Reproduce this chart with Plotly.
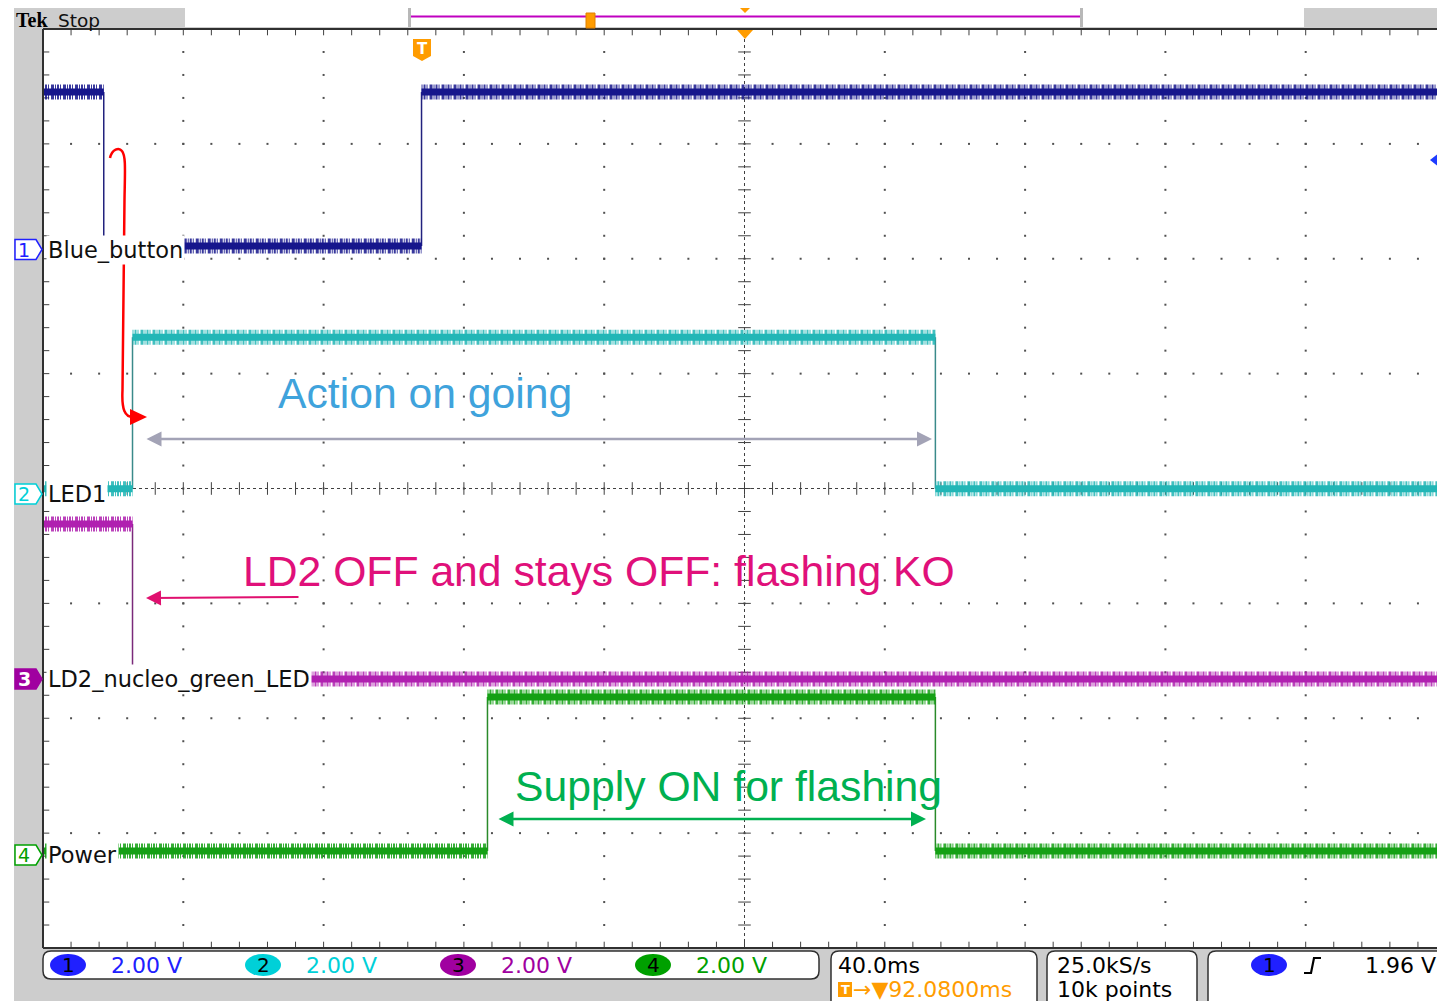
import plotly.graph_objects as go

# ---------------- data ----------------
# time axis: ms relative to trigger (ch1 rising edge), 40 ms/div, 10 div
MS_PER_DIV = 40.0
X_LEFT_MS = -107.92          # left edge of the graticule
TRIG_POS_MS = 92.08          # centre of screen relative to trigger
# vertical: 2.00 V/div for every channel, 8 div, offsets in divisions
V_PER_DIV = 2.0

CH_NAMES = ["Blue_button", "LED1", "LD2_nucleo_green_LED", "Power"]
CH_OFFSET_DIV = [2.076, -0.048, -1.658, -3.19]
CH1_EDGES_MS = [-90.6, 0.0]
CH1_LEVELS_V = [2.75, 0.07, 2.75]
CH2_EDGES_MS = [-82.4, 146.5]
CH2_LEVELS_V = [0.09, 2.73, 0.09]
CH3_EDGES_MS = [-82.4]
CH3_LEVELS_V = [2.70, 0.00]
CH4_EDGES_MS = [18.8, 146.5]
CH4_LEVELS_V = [0.07, 2.75, 0.07]

CH_COLORS = ["#16168c", "#22b6b6", "#b020b0", "#14a014"]
CH_EDGE_COLORS = ["#22227e", "#3a8a8a", "#7a2a7a", "#2a8a2a"]
CH_TAG_COLORS = ["#2020ff", "#00d0d8", "#a000a0", "#00a000"]

SCALE_TEXT = ["2.00 V", "2.00 V", "2.00 V", "2.00 V"]
TIMEBASE_TEXT = "40.0ms"
TRIG_POS_TEXT = "→▼92.0800ms"
SAMPLE_RATE_TEXT = "25.0kS/s"
RECORD_TEXT = "10k points"
TRIG_LEVEL_TEXT = "1.96 V"

# ---------------- geometry helpers ----------------
# the page body adds an 8 px margin; positions are given in window pixels
W, H = 1445, 1001
OFF = 8
def px(x): return (x - OFF) / W
def py(y): return 1 - (y - OFF) / H
def pt(x, y): return f"{px(x):.5f},{py(y):.5f}"
def ppath(pts, close=True):
    s = "M " + " L ".join(pt(x, y) for x, y in pts)
    return s + (" Z" if close else "")
def rrect_path(x0, x1, y0, y1, r):
    return (f"M {pt(x0 + r, y0)} L {pt(x1 - r, y0)} Q {pt(x1, y0)} {pt(x1, y0 + r)} "
            f"L {pt(x1, y1 - r)} Q {pt(x1, y1)} {pt(x1 - r, y1)} L {pt(x0 + r, y1)} "
            f"Q {pt(x0, y1)} {pt(x0, y1 - r)} L {pt(x0, y0 + r)} Q {pt(x0, y0)} {pt(x0 + r, y0)} Z")

RIGHT_PX = W + OFF
X_MIN = X_LEFT_MS
X_MAX = X_LEFT_MS + 10 * MS_PER_DIV * (RIGHT_PX - 43) / (1446 - 43)

fig = go.Figure()
shapes = []
ann = []
GRAY = "#cdcdcd"

# ---------------- graticule ----------------
gx, gy = [], []
for k in range(1, 10):
    if k == 5:
        continue
    for n in range(41):
        gx.append(X_LEFT_MS + k * MS_PER_DIV); gy.append(-4 + 0.2 * n)
for j in range(1, 8):
    if j == 4:
        continue
    for m in range(51):
        gx.append(X_LEFT_MS + m * MS_PER_DIV / 5); gy.append(-4 + j)
fig.add_trace(go.Scatter(x=gx, y=gy, mode="markers", hoverinfo="skip",
                         marker=dict(symbol="square", size=2, color="#505050")))
tx = [X_LEFT_MS + m * MS_PER_DIV / 5 for m in range(51)]
ty = [-4 + 0.2 * n for n in range(41)]
fig.add_trace(go.Scatter(x=tx * 3, y=[0] * 51 + [4] * 51 + [-4] * 51, mode="markers", hoverinfo="skip",
                         marker=dict(symbol="line-ns", size=9, line=dict(width=1, color="#404040"))))
fig.add_trace(go.Scatter(x=[TRIG_POS_MS] * 41 + [X_LEFT_MS] * 41, y=ty * 2, mode="markers", hoverinfo="skip",
                         marker=dict(symbol="line-ew", size=9, line=dict(width=1, color="#404040"))))
shapes.append(dict(type="line", x0=TRIG_POS_MS, x1=TRIG_POS_MS, y0=-4, y1=4, xref="x", yref="y",
                   line=dict(color="#404040", width=1, dash="dot"), layer="below"))
shapes.append(dict(type="line", x0=X_MIN, x1=X_MAX, y0=0, y1=0, xref="x", yref="y",
                   line=dict(color="#404040", width=1, dash="dot"), layer="below"))

# ---------------- channel traces ----------------
HATCH = "1px,1px,2px,1px,1px,2px,3px,1px"   # stroke texture for the noisy acquisition band

def add_channel(edges, levels, offset, color, edge_color):
    bounds = [X_MIN] + edges + [X_MAX]
    sx, sy = [], []
    for i, lv in enumerate(levels):
        yv = offset + lv / V_PER_DIV
        sx += [bounds[i], bounds[i + 1], None]
        sy += [yv, yv, None]
    ex, ey = [], []
    for i, e in enumerate(edges):
        ex += [e, e, None]
        ey += [offset + levels[i] / V_PER_DIV, offset + levels[i + 1] / V_PER_DIV, None]
    fig.add_trace(go.Scatter(x=ex, y=ey, mode="lines", hoverinfo="skip",
                             line=dict(color=edge_color, width=1.5)))
    fig.add_trace(go.Scatter(x=sx, y=sy, mode="lines", hoverinfo="skip", opacity=0.85,
                             line=dict(color=color, width=15, dash=HATCH)))
    fig.add_trace(go.Scatter(x=sx, y=sy, mode="lines", hoverinfo="skip",
                             line=dict(color=color, width=7)))

add_channel(CH1_EDGES_MS, CH1_LEVELS_V, CH_OFFSET_DIV[0], CH_COLORS[0], CH_EDGE_COLORS[0])
add_channel(CH2_EDGES_MS, CH2_LEVELS_V, CH_OFFSET_DIV[1], CH_COLORS[1], CH_EDGE_COLORS[1])
add_channel(CH3_EDGES_MS, CH3_LEVELS_V, CH_OFFSET_DIV[2], CH_COLORS[2], CH_EDGE_COLORS[2])
add_channel(CH4_EDGES_MS, CH4_LEVELS_V, CH_OFFSET_DIV[3], CH_COLORS[3], CH_EDGE_COLORS[3])

def prect(x0, x1, y0, y1, fill, line=None):
    shapes.append(dict(type="rect", xref="paper", yref="paper", x0=px(x0), x1=px(x1), y0=py(y1), y1=py(y0),
                       fillcolor=fill, line=line or dict(width=0), layer="above"))

# frame backgrounds
prect(14, 43, 5, 1010, GRAY)
prect(14, RIGHT_PX, 5, 29, GRAY)
prect(14, RIGHT_PX, 948, 1010, GRAY)
# plot border
for (x0, y0, x1, y1) in [(43, 29, RIGHT_PX, 29), (43, 948, RIGHT_PX, 948), (43, 29, 43, 948)]:
    shapes.append(dict(type="line", xref="paper", yref="paper", x0=px(x0), x1=px(x1), y0=py(y0), y1=py(y1),
                       line=dict(color="#303030", width=2), layer="above"))

# top bar
prect(185, 1304, 7, 27, "white")
prect(408, 411, 7, 27, "#b8b8b8")
prect(1080, 1083, 7, 27, "#b8b8b8")
shapes.append(dict(type="line", xref="paper", yref="paper", x0=px(411), x1=px(1080), y0=py(16.5), y1=py(16.5),
                   line=dict(color="#c000c0", width=2), layer="above"))
prect(586, 595, 13, 28, "#ff9c00", dict(color="#e08000", width=1))
shapes.append(dict(type="path", xref="paper", yref="paper", path=ppath([(739, 7), (751, 7), (745, 13)]),
                   fillcolor="#ff9c00", line=dict(width=0), layer="above"))
shapes.append(dict(type="path", xref="paper", yref="paper", path=ppath([(737, 30), (753, 30), (745, 39)]),
                   fillcolor="#ff9c00", line=dict(width=0), layer="above"))
ann.append(dict(text="<b>Tek</b>", x=px(14), y=py(20.5), xanchor="left", yanchor="middle",
                font=dict(family="Liberation Serif", size=20, color="black")))
ann.append(dict(text="Stop", x=px(56), y=py(20), xanchor="left", yanchor="middle",
                font=dict(family="DejaVu Sans", size=18.5, color="#101010")))

# trigger marker in plot
shapes.append(dict(type="path", xref="paper", yref="paper",
                   path=ppath([(413, 39), (431, 39), (431, 56), (422, 61), (413, 56)]),
                   fillcolor="#ff9c00", line=dict(width=0), layer="above"))
ann.append(dict(text="<b>T</b>", x=px(422), y=py(49), xanchor="center", yanchor="middle",
                font=dict(family="DejaVu Sans", size=15, color="white")))
# ch1 trigger level arrow on right edge
shapes.append(dict(type="path", xref="paper", yref="paper",
                   path=ppath([(1430, 160), (1440, 152), (1440, 157), (1450, 157), (1450, 163), (1440, 163), (1440, 168)]),
                   fillcolor="#1e3cff", line=dict(width=0), layer="above"))

# red curved arrow
red_path = (f"M {pt(110, 158)} C {pt(112, 149)} {pt(119, 147)} {pt(122, 151)} "
            f"C {pt(126, 156)} {pt(125, 170)} {pt(124.5, 200)} L {pt(122.5, 390)} "
            f"C {pt(121.5, 410)} {pt(125, 417)} {pt(133, 417)}")
shapes.append(dict(type="path", xref="paper", yref="paper", path=red_path,
                   line=dict(color="#ff0000", width=2.5), layer="above"))
shapes.append(dict(type="path", xref="paper", yref="paper", path=ppath([(130, 409), (147, 417), (130, 425)]),
                   fillcolor="#ff0000", line=dict(width=0), layer="above"))

# channel tags on the left + channel labels
tag_y = [249.5, 494, 679, 855]
for i in range(4):
    c = tag_y[i]
    filled = (i == 2)
    shapes.append(dict(type="path", xref="paper", yref="paper",
                       path=ppath([(15, c - 10), (36, c - 10), (42, c), (36, c + 10), (15, c + 10)]),
                       fillcolor=CH_TAG_COLORS[i] if filled else "white",
                       line=dict(color=CH_TAG_COLORS[i], width=1.5), layer="above"))
    ann.append(dict(text=f"<b>{i+1}</b>" if filled else str(i + 1), x=px(24), y=py(c), xanchor="center", yanchor="middle",
                    font=dict(family="DejaVu Sans", size=19, color="white" if filled else CH_TAG_COLORS[i])))
    ann.append(dict(text=CH_NAMES[i], x=px(46), y=py(c), xanchor="left", yanchor="middle",
                    bgcolor="white", borderpad=1,
                    font=dict(family="DejaVu Sans", size=22.5, color="#101010")))

# callout texts
ann.append(dict(text="Action on going", x=px(276), y=py(393), xanchor="left", yanchor="middle",
                font=dict(family="Liberation Sans", size=42.7, color="#3fa3dc")))
ann.append(dict(text="LD2 OFF and stays OFF: flashing KO", x=px(241), y=py(571), xanchor="left", yanchor="middle",
                font=dict(family="Liberation Sans", size=42.7, color="#e0107a")))
ann.append(dict(text="Supply ON for flashing", x=px(513), y=py(786), xanchor="left", yanchor="middle",
                font=dict(family="Liberation Sans", size=42.7, color="#00b050")))
# arrows
ann.append(dict(text="", x=px(932), y=py(439), ax=-(932 - 145), ay=0, showarrow=True, arrowside="end+start",
                arrowhead=2, arrowsize=1.2, arrowwidth=2.5, arrowcolor="#a3a3b6"))
ann.append(dict(text="", x=px(146), y=py(598), ax=(300 - 146), ay=-1, showarrow=True,
                arrowhead=2, arrowsize=1.5, arrowwidth=2, arrowcolor="#e0106f"))
ann.append(dict(text="", x=px(926), y=py(819), ax=-(926 - 497), ay=0, showarrow=True, arrowside="end+start",
                arrowhead=2, arrowsize=1.2, arrowwidth=2.5, arrowcolor="#00b050"))

# ---------------- status bar ----------------
def rbox(x0, x1, y0, y1, r=8):
    shapes.append(dict(type="path", xref="paper", yref="paper", path=rrect_path(x0, x1, y0, y1, r),
                       fillcolor="white", line=dict(color="#303030", width=1.5), layer="above"))
rbox(43, 819, 951, 979)
rbox(831, 1037, 951, 1015)
rbox(1047, 1197, 951, 1015)
rbox(1208, 1470, 951, 1015)

tag_x = [50, 245, 440, 635]
for i in range(4):
    x0 = tag_x[i]
    shapes.append(dict(type="circle", xref="paper", yref="paper", x0=px(x0), x1=px(x0 + 36), y0=py(976), y1=py(954),
                       fillcolor=CH_TAG_COLORS[i], line=dict(width=0), layer="above"))
    ann.append(dict(text=str(i + 1), x=px(x0 + 18), y=py(965), xanchor="center", yanchor="middle",
                    font=dict(family="DejaVu Sans", size=20, color="black")))
    ann.append(dict(text=SCALE_TEXT[i], x=px(x0 + 59), y=py(965), xanchor="left", yanchor="middle",
                    font=dict(family="DejaVu Sans", size=22, color=CH_TAG_COLORS[i])))

ann.append(dict(text=TIMEBASE_TEXT, x=px(836), y=py(965), xanchor="left", yanchor="middle",
                font=dict(family="DejaVu Sans", size=22, color="black")))
prect(838, 852, 982, 997, "#ff9c00")
ann.append(dict(text="<b>T</b>", x=px(845), y=py(989.5), xanchor="center", yanchor="middle",
                font=dict(family="DejaVu Sans", size=13, color="white")))
ann.append(dict(text=TRIG_POS_TEXT, x=px(851), y=py(989), xanchor="left", yanchor="middle",
                font=dict(family="DejaVu Sans", size=22, color="#ff9c00")))
ann.append(dict(text=SAMPLE_RATE_TEXT, x=px(1055), y=py(965), xanchor="left", yanchor="middle",
                font=dict(family="DejaVu Sans", size=22, color="black")))
ann.append(dict(text=RECORD_TEXT, x=px(1055), y=py(989), xanchor="left", yanchor="middle",
                font=dict(family="DejaVu Sans", size=22, color="black")))
shapes.append(dict(type="circle", xref="paper", yref="paper", x0=px(1251), x1=px(1287), y0=py(976), y1=py(954),
                   fillcolor=CH_TAG_COLORS[0], line=dict(width=0), layer="above"))
ann.append(dict(text="1", x=px(1269), y=py(965), xanchor="center", yanchor="middle",
                font=dict(family="DejaVu Sans", size=20, color="black")))
shapes.append(dict(type="path", xref="paper", yref="paper",
                   path=ppath([(1304, 973), (1311, 973), (1314, 958), (1321, 958)], close=False),
                   line=dict(color="black", width=2.2), layer="above"))
ann.append(dict(text=TRIG_LEVEL_TEXT, x=px(1438), y=py(965), xanchor="right", yanchor="middle",
                font=dict(family="DejaVu Sans", size=22, color="black")))

for a in ann:
    a.setdefault("xref", "paper"); a.setdefault("yref", "paper")
    a.setdefault("showarrow", False)
    if a.get("showarrow"):
        a["axref"] = "pixel"; a["ayref"] = "pixel"

fig.update_layout(
    width=W, height=H, margin=dict(l=0, r=0, t=0, b=0),
    paper_bgcolor="white", plot_bgcolor="white", showlegend=False,
    xaxis=dict(domain=[px(43), 1], range=[X_MIN, X_MAX], showgrid=False, zeroline=False,
               showticklabels=False, ticks="", fixedrange=True),
    yaxis=dict(domain=[py(948), py(29)], range=[-4, 4], showgrid=False, zeroline=False,
               showticklabels=False, ticks="", fixedrange=True),
    shapes=shapes, annotations=ann,
)
fig.write_html("out.html")
